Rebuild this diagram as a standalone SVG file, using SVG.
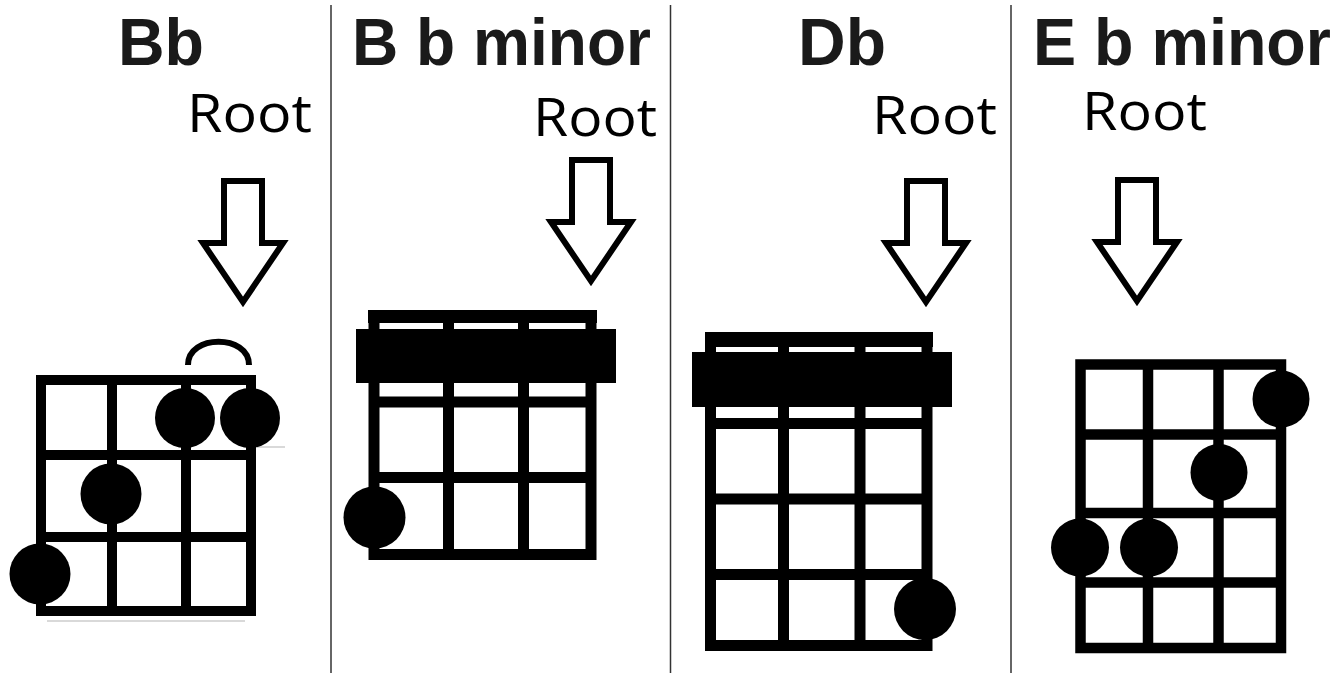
<svg xmlns="http://www.w3.org/2000/svg" width="1343" height="673" viewBox="0 0 1343 673">
<style>
.title{font-family:"Liberation Sans",Arial,sans-serif;font-weight:bold;font-size:66px;fill:#1a1a1a}
.root{font-family:"Open Sans","Noto Sans",sans-serif;font-size:53px;fill:#000}
.arrow{fill:#fff;stroke:#000;stroke-width:6;stroke-linejoin:miter}
.frame{fill:none;stroke:#000}
.dot{fill:#000}
.div{stroke:#333;stroke-width:1.5}
</style>
<defs>
<path id="arr" class="arrow" d="M-19,0 L19,0 L19,62 L40,62 L0,121 L-40,62 L-19,62 Z"/>
</defs>
<rect width="1343" height="673" fill="#fff"/>
<g id="dividers">
<line class="div" x1="331" y1="5" x2="331" y2="673"/>
<line class="div" x1="670.5" y1="5" x2="670.5" y2="673"/>
<line class="div" x1="1011" y1="5" x2="1011" y2="673"/>
</g>
<g id="chord-bb">
<text class="title" x="118" y="65" textLength="86" lengthAdjust="spacingAndGlyphs">Bb</text>
<text class="root" x="187" y="132" textLength="125" lengthAdjust="spacingAndGlyphs">Root</text>
<use href="#arr" transform="translate(243,181)"/>
<path d="M188,365 C188,334 249,334 249,365" fill="none" stroke="#000" stroke-width="6"/>
<g stroke="#000" stroke-width="10" fill="none">
<rect x="41" y="380" width="210" height="231"/>
<line x1="112" y1="380" x2="112" y2="611"/>
<line x1="186" y1="380" x2="186" y2="611"/>
<line x1="41" y1="455" x2="251" y2="455"/>
<line x1="41" y1="537" x2="251" y2="537"/>
</g>
<g stroke="#ccc" stroke-width="1.5">
<line x1="257" y1="447" x2="285" y2="447"/>
<line x1="47" y1="621" x2="245" y2="621"/>
</g>
<circle class="dot" cx="185" cy="418" r="30"/>
<circle class="dot" cx="250" cy="418" r="30"/>
<circle class="dot" cx="111" cy="494" r="30.5"/>
<circle class="dot" cx="40" cy="574" r="30.5"/>
</g>
<g id="chord-bbm">
<text class="title" x="352" y="65" textLength="299" lengthAdjust="spacingAndGlyphs">B b minor</text>
<text class="root" x="533" y="136" textLength="124" lengthAdjust="spacingAndGlyphs">Root</text>
<use href="#arr" transform="translate(591,160)"/>
<rect x="368" y="310" width="229" height="13" fill="#000"/>
<g stroke="#000" stroke-width="11" fill="none">
<rect x="374" y="316" width="217" height="238.5"/>
<line x1="448.5" y1="316" x2="448.5" y2="554"/>
<line x1="523.5" y1="316" x2="523.5" y2="554"/>
<line x1="374" y1="402" x2="591" y2="402"/>
<line x1="374" y1="477.5" x2="591" y2="477.5"/>
</g>
<rect x="356" y="329" width="260" height="54" fill="#000"/>
<circle class="dot" cx="374.5" cy="517.5" r="31"/>
</g>
<g id="chord-db">
<text class="title" x="798" y="65" textLength="88" lengthAdjust="spacingAndGlyphs">Db</text>
<text class="root" x="872" y="134" textLength="125" lengthAdjust="spacingAndGlyphs">Root</text>
<use href="#arr" transform="translate(926,181)"/>
<rect x="705" y="332" width="228" height="15" fill="#000"/>
<g stroke="#000" stroke-width="11" fill="none">
<rect x="710.5" y="339.5" width="216.5" height="306"/>
<line x1="783.5" y1="339" x2="783.5" y2="645"/>
<line x1="860" y1="339" x2="860" y2="645"/>
<line x1="710" y1="423.5" x2="927" y2="423.5"/>
<line x1="710" y1="499" x2="927" y2="499"/>
<line x1="710" y1="574.5" x2="927" y2="574.5"/>
</g>
<rect x="692" y="352" width="260" height="55" fill="#000"/>
<circle class="dot" cx="925" cy="609" r="31"/>
</g>
<g id="chord-ebm">
<text class="title" x="1033" y="65" textLength="298" lengthAdjust="spacingAndGlyphs">E b minor</text>
<text class="root" x="1082" y="130" textLength="125" lengthAdjust="spacingAndGlyphs">Root</text>
<use href="#arr" transform="translate(1137,180)"/>
<g stroke="#000" stroke-width="10.5" fill="none">
<rect x="1080.5" y="364.5" width="200.5" height="283.5"/>
<line x1="1148" y1="364.5" x2="1148" y2="648"/>
<line x1="1218.5" y1="364.5" x2="1218.5" y2="648"/>
<line x1="1080.5" y1="434.5" x2="1281" y2="434.5"/>
<line x1="1080.5" y1="513" x2="1281" y2="513"/>
<line x1="1080.5" y1="582.5" x2="1281" y2="582.5"/>
</g>
<circle class="dot" cx="1281" cy="399" r="28.5"/>
<circle class="dot" cx="1219" cy="472.5" r="28.5"/>
<circle class="dot" cx="1080" cy="547.5" r="29"/>
<circle class="dot" cx="1149" cy="547.5" r="29"/>
</g>
</svg>
